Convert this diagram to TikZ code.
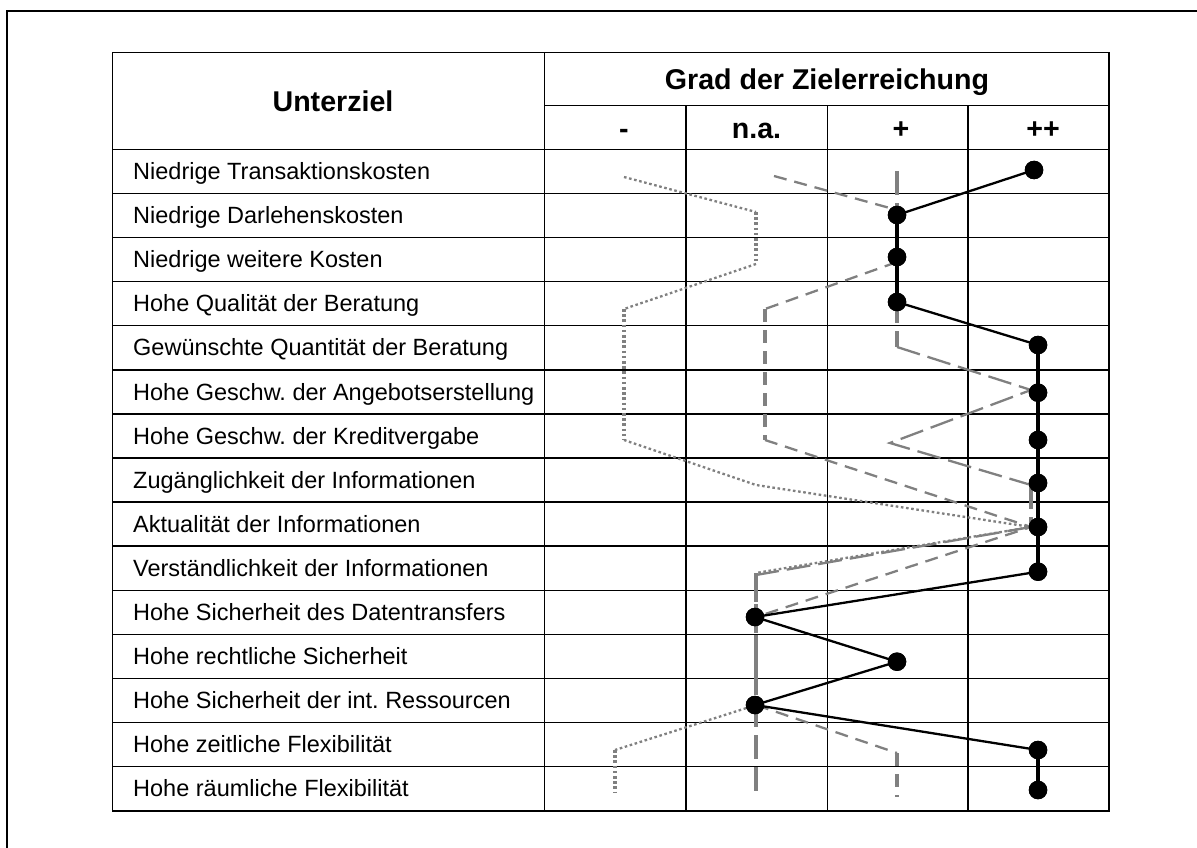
\documentclass[tikz,border=0pt]{standalone}
\usepackage{fontspec}
\setmainfont{Liberation Sans}
\frenchspacing
\definecolor{series}{RGB}{128,128,128}
\begin{document}
\begin{tikzpicture}[x=1pt,y=-1pt,
  frameline/.style={line width=2.2pt,black},
  gridline/.style={line width=1.5pt,black},
  lbl/.style={anchor=base west,inner sep=0pt,font=\fontsize{23.5}{28}\selectfont},
  hdr/.style={anchor=base,inner sep=0pt,font=\fontsize{28.6}{34}\selectfont\bfseries},
  marker/.style={circle,fill=black,draw=none,minimum size=18.5pt,inner sep=0pt},
  solidseg/.style={line width=2.3pt,black},
  solidvert/.style={line width=4.5pt,black},
  grayseg/.style={draw=series,line width=2.3pt},
  grayvert/.style={draw=series,line width=3.2pt},
  dotpat/.style={dash pattern=on 2.6pt off 2.6pt},
  medpat/.style={dash pattern=on 13pt off 8pt},
  longpat/.style={dash pattern=on 24pt off 8pt}
]
\useasboundingbox (0,0) rectangle (1197,848);
\clip (0,0) rectangle (1197,848);

% page frame (only its top and left edges lie on the page)
\draw[frameline] (1230,11.2) -- (6.7,11.2) -- (6.7,880);

% table grid
\draw[gridline] (112.7,52.7) rectangle (1109,810.8);
\draw[gridline] (544.5,52.7) -- (544.5,810.8);
\draw[gridline] (544.5,105.7) -- (1109,105.7);
\foreach \cx in {686,827.5,968}
  \draw[gridline] (\cx,105.7) -- (\cx,810.8);
\foreach \k in {0,...,14}
  \draw[gridline] (112.7,{149.3+44.1*\k}) -- (1109,{149.3+44.1*\k});

% header
\node[hdr] (hUnter) at (333,111.7) {Unterziel};
\node[hdr] (hGrad) at (827,89.3) {Grad der Zielerreichung};
\node[hdr] (hMinus) at (624,138.3) {-};
\node[hdr] (hNa) at (756.5,138.3) {n.a.};
\node[hdr] (hPlus) at (901,138.3) {+};
\node[hdr] (hPP) at (1043,138.3) {++};

% row labels
\foreach \t [count=\i] in {Niedrige Transaktionskosten,Niedrige Darlehenskosten,
  Niedrige weitere Kosten,Hohe Qualität der Beratung,Gewünschte Quantität der Beratung,
  Hohe Geschw. der Angebotserstellung,Hohe Geschw. der Kreditvergabe,
  Zugänglichkeit der Informationen,Aktualität der Informationen,
  Verständlichkeit der Informationen,Hohe Sicherheit des Datentransfers,
  Hohe rechtliche Sicherheit,Hohe Sicherheit der int. Ressourcen,
  Hohe zeitliche Flexibilität,Hohe räumliche Flexibilität}
  \node[lbl] (row\i) at (133,{149.3+44.1*(\i-0.5)+8.2}) {\t};

% dotted series
\draw[grayseg,dotpat] (624,177) -- (756,212);
\draw[grayvert,dotpat] (756,212) -- (756,264);
\draw[grayseg,dotpat] (756,264) -- (624,309);
\draw[grayvert,dotpat] (624,309) -- (624,440);
\draw[grayseg,dotpat] (624,440) -- (756,485) -- (1031,527) -- (756,573);
\draw[grayvert,dotpat] (756,573) -- (756,705);
\draw[grayseg,dotpat] (756,705) -- (615,750);
\draw[grayvert,dotpat] (615,750) -- (615,793);

% medium dashed series
\draw[grayseg,medpat] (774,176) -- (897,210);
\draw[grayvert,medpat] (897,210) -- (897,262);
\draw[grayseg,medpat] (897,262) -- (765,309);
\draw[grayvert,medpat] (765,309) -- (765,440);
\draw[grayseg,medpat] (765,440) -- (1031,527) -- (756,617);
\draw[grayvert,medpat] (756,617) -- (756,705);
\draw[grayseg,medpat] (756,705) -- (897,753);
\draw[grayvert,medpat] (897,753) -- (897,797);

% long dashed series
\draw[grayvert,longpat] (897,171) -- (897,347);
\draw[grayseg,longpat] (897,347) -- (1031,390) -- (890,443) -- (1031,485);
\draw[grayvert,longpat] (1031,485) -- (1031,527);
\draw[grayseg,longpat] (1031,527) -- (756,575);
\draw[grayvert,longpat] (756,575) -- (756,792);

% solid series with markers
\node[marker] (d1) at (1034,170) {};
\node[marker] (d2) at (897,215) {};
\node[marker] (d3) at (897,257) {};
\node[marker] (d4) at (897,302) {};
\node[marker] (d5) at (1038,345) {};
\node[marker] (d6) at (1038,392.7) {};
\node[marker] (d7) at (1038,440) {};
\node[marker] (d8) at (1038,483) {};
\node[marker] (d9) at (1038,527) {};
\node[marker] (d10) at (1038,571.7) {};
\node[marker] (d11) at (755,617) {};
\node[marker] (d12) at (897,661.7) {};
\node[marker] (d13) at (755,705) {};
\node[marker] (d14) at (1038,750) {};
\node[marker] (d15) at (1038,790) {};

\draw[solidseg] (d1.center) -- (d2.center);
\draw[solidvert] (d2.center) -- (d3.center) -- (d4.center);
\draw[solidseg] (d4.center) -- (d5.center);
\draw[solidvert] (d5.center) -- (d6.center) -- (d7.center) -- (d8.center) -- (d9.center) -- (d10.center);
\draw[solidseg] (d10.center) -- (d11.center) -- (d12.center) -- (d13.center) -- (d14.center);
\draw[solidvert] (d14.center) -- (d15.center);

% markers drawn again over the connecting lines
\foreach \n in {d1,d2,d3,d4,d5,d6,d7,d8,d9,d10,d11,d12,d13,d14,d15}
  \fill[black] (\n.center) circle (9.25pt);
\end{tikzpicture}
\end{document}
